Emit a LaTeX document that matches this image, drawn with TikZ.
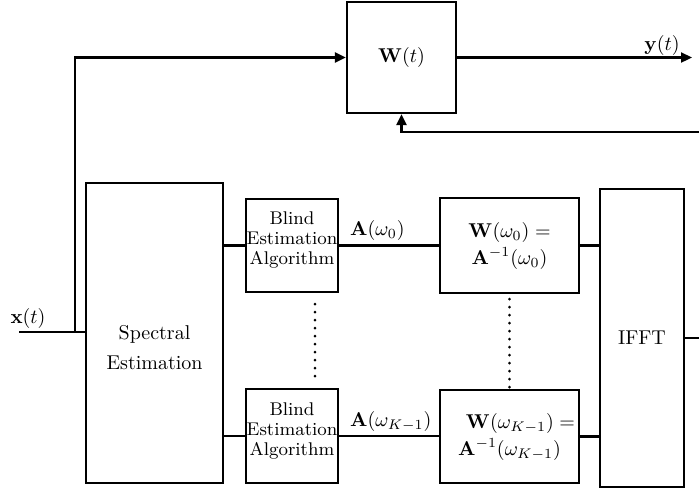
\documentclass[tikz,border=0pt]{standalone}
\usetikzlibrary{arrows.meta}
\begin{document}
\begin{tikzpicture}[x=0.5pt, y=-0.5pt,
  wire/.style={line width=1.1pt},
  arr/.style={wire, -{Triangle[length=5.5pt,width=5pt]}},
  block/.style={draw, line width=1.1pt, inner sep=0pt, align=center},
  blindtext/.style={align=center, font=\fontsize{9.2}{10}\selectfont},
  eqtext/.style={font=\fontsize{10}{13.5}\selectfont},
  sig/.style={inner sep=0pt, anchor=south west, xshift=5pt, yshift=1.75pt},
  dotline/.style={line width=1.4pt, line cap=round, dash pattern=on 0pt off 4pt}]
\useasboundingbox (0,0) rectangle (699,489);

% adaptive filter in the time domain
\node[block, minimum width=54.5pt, minimum height=55.5pt] (Wt) at (401.5,57.5) {$\mathbf{W}(t)$};

% frequency-domain estimation chain
\node[block, minimum width=68.5pt, minimum height=150pt,
  label={[align=center, yshift=-7.5pt, font=\fontsize{10}{15}\selectfont]center:Spectral\\Estimation}]
  (spec) at (154.5,333) {};
\node[block, minimum width=46pt, minimum height=46.5pt,
  label={[blindtext, yshift=2.75pt]center:Blind\\Estimation\\Algorithm}]
  (blindA) at (292,245.5) {};
\node[block, minimum width=46pt, minimum height=47pt,
  label={[blindtext, yshift=2.75pt]center:Blind\\Estimation\\Algorithm}]
  (blindB) at (292,436) {};
\node[block, eqtext, minimum width=69.5pt, minimum height=47.5pt] (wA) at (509.5,245.5)
  {$\mathbf{W}(\omega_0) =$\\$\mathbf{A}^{-1}(\omega_0)$};
\node[block, eqtext, minimum width=69.5pt, minimum height=46.5pt] (wB) at (509.5,436.5)
  {\hspace*{11pt}$\mathbf{W}(\omega_{K-1}) =$\\$\mathbf{A}^{-1}(\omega_{K-1})$};
\node[block, minimum width=42pt, minimum height=149pt] (ifft) at (642,338) {IFFT};

% terminals
\coordinate (xin) at (19,332);
\coordinate (branch) at (75,332);
\coordinate (yout) at (692,57.5);
\coordinate (fb) at (699,132);
\coordinate (ifftout) at (699,338);

\node (xlbl) at (28,318) {$\mathbf{x}(t)$};
\node (ylbl) at (662,45) {$\mathbf{y}(t)$};

% signal paths
\draw[wire] (xin) -- (spec.west |- xin);
\draw[arr] (branch) |- (Wt.west);
\draw[arr] (Wt.east) -- (yout);
\draw[arr] (fb) -| (Wt.south);

\draw[wire] (spec.east |- blindA.west) -- (blindA.west);
\draw[wire] (spec.east |- blindB.west) -- (blindB.west);
\draw[wire] (blindA.east) -- node[sig, pos=0] (lblA) {$\mathbf{A}(\omega_0)$} (wA.west);
\draw[wire] (blindB.east) -- node[sig, pos=0] (lblB) {$\mathbf{A}(\omega_{K-1})$} (blindB.east -| wB.west);
\draw[wire] (wA.east) -- (wA.east -| ifft.west);
\draw[wire] (wB.east) -- (wB.east -| ifft.west);
\draw[wire] (ifft.east) -- (ifftout);

% omitted frequency bins
\draw[dotline] ([xshift=11.5pt, yshift=-5.5pt]blindA.south) -- ([xshift=11.5pt, yshift=3pt]blindB.north);
\draw[dotline] ([yshift=-2.5pt]wA.south) -- (wB.north);
\end{tikzpicture}
\end{document}
